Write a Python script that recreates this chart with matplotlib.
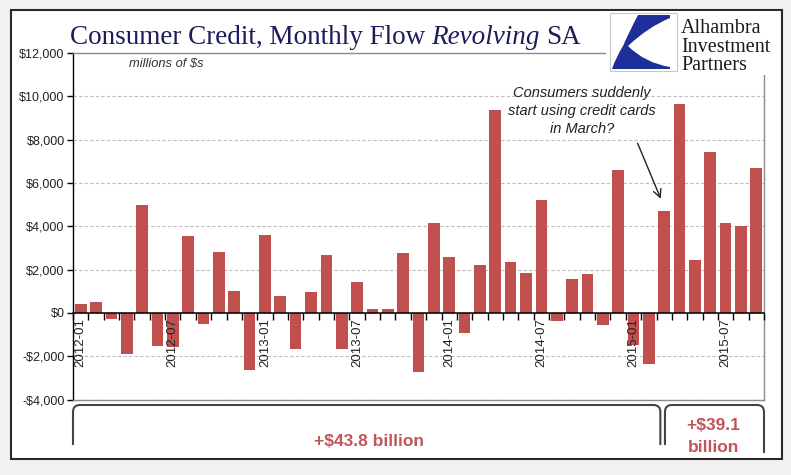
import matplotlib
matplotlib.use("Agg")
import matplotlib.pyplot as plt
from matplotlib.path import Path
from matplotlib.patches import PathPatch, Rectangle
import matplotlib.transforms as mtransforms

# ---------------- data ----------------
months = [f"{y}-{m:02d}" for y in (2012, 2013, 2014, 2015) for m in range(1, 13)][:45]
values = [430, 510, -280, -1890, 5000, -1510, -1570, 3570, -520, 2830, 1000, -2615,
          3580, 790, -1675, 980, 2650, -1675, 1430, 170, 170, 2775, -2710, 4140,
          2590, -915, 2230, 9350, 2360, 1860, 5210, -360, 1550, 1800, -540, 6620,
          -1500, -2340, 4700, 9660, 2420, 7440, 4140, 4030, 6680]
tick_labels = ["2012-01", "2012-07", "2013-01", "2013-07",
               "2014-01", "2014-07", "2015-01", "2015-07"]
yticks = [-4000, -2000, 0, 2000, 4000, 6000, 8000, 10000, 12000]
split_index = 38          # 2015-03 starts second bracket
brace_labels = ["+$43.8 billion", "+$39.1\nbillion"]
annotation = "Consumers suddenly\nstart using credit cards\nin March?"

W, H = 791, 475
BAR = "#c0504d"

fig = plt.figure(figsize=(W / 100, H / 100), dpi=100, facecolor="#f2f2f2")


def P(x, y):
    return (x / W, 1 - y / H)


# outer frame
fig.add_artist(Rectangle(P(11, 459), 771 / W, 449 / H, transform=fig.transFigure,
                         facecolor="white", edgecolor="#2a2a2a", lw=1.5, zorder=-5))

ax = fig.add_axes([73 / W, 1 - 399.5 / H, 691 / W, 346.5 / H])
ax.set_facecolor("white")
x = list(range(len(values)))
ax.bar(x, values, width=0.76, color=BAR, zorder=3)
ax.set_xlim(-0.5, len(values) - 0.5)
ax.set_ylim(yticks[0], yticks[-1])
ax.set_yticks(yticks)
ax.set_yticklabels([("-$" if v < 0 else "$") + f"{abs(v):,}" for v in yticks],
                   fontfamily="Liberation Sans", fontsize=9, color="#222222")
ax.tick_params(axis="y", direction="out", length=4, width=1, color="black", pad=2)
ax.yaxis.grid(True, linestyle=(0, (3, 2)), color="#bdbdbd", lw=0.8)
ax.set_axisbelow(True)
ax.set_xticks([])
for s in ("top", "right", "bottom"):
    ax.spines[s].set_color("#8c8c8c")
    ax.spines[s].set_linewidth(1)
ax.spines["left"].set_color("black")
ax.spines["left"].set_linewidth(1)

# zero line axis with category ticks
zero_frac = (0 - yticks[0]) / (yticks[-1] - yticks[0])
sec = ax.secondary_xaxis(zero_frac)
sec.set_zorder(6)
sec.set_xticks([i - 0.5 for i in range(len(values) + 1)])
sec.set_xticklabels([])
label_pos = [months.index(t) for t in tick_labels]
sec.set_xticks(label_pos, labels=tick_labels, minor=True)
sec.tick_params(which="major", direction="out", length=5, width=1, color="black")
sec.tick_params(which="minor", length=0, pad=4, labelrotation=90,
                labelsize=9.5, labelcolor="#222222")
for lab in sec.get_xticklabels(minor=True):
    lab.set_fontfamily("Liberation Sans")
sec.spines["bottom"].set_color("black")
sec.spines["bottom"].set_linewidth(1.1)

# annotation
ax.text(32.65, 9330, annotation, ha="center", va="center", fontsize=10.5,
        fontstyle="italic", fontfamily="Liberation Sans", color="#222222",
        linespacing=1.35, zorder=5)
ax.annotate("", xy=(37.85, 5150), xytext=(36.2, 7950),
            arrowprops=dict(arrowstyle="->", color="#222222", lw=1,
                            mutation_scale=14), zorder=5)

# title
renderer = fig.canvas.get_renderer()
tkw = dict(fontfamily="Liberation Serif", fontsize=19.5, color="#1c1c5a", va="baseline")
t1 = fig.text(*P(70, 44), "Consumer Credit, Monthly Flow", **tkw)
bb = t1.get_window_extent(renderer)
t2 = fig.text((bb.x1 + 6) / W, 1 - 44 / H, "Revolving", fontstyle="italic", **tkw)
bb = t2.get_window_extent(renderer)
fig.text((bb.x1 + 6) / W, 1 - 44 / H, "SA", **tkw)

fig.text(*P(129, 63.5), "millions of $s", fontsize=9.3, fontstyle="italic",
         fontfamily="Liberation Sans", color="#333333", va="center")

# logo
fig.add_artist(Rectangle(P(606, 75), 174 / W, 63.5 / H, transform=fig.transFigure,
                         facecolor="white", edgecolor="none", zorder=3))
fig.add_artist(Rectangle(P(610, 71), 67 / W, 58 / H, transform=fig.transFigure,
                         facecolor="white", edgecolor="#c8c8c8", lw=0.8, zorder=3))
sw = [(638, 15), (670, 15), (670, 18), (648, 27), (628, 46), (645, 63), (670, 67),
      (670, 69), (612, 69), (616, 57), (623, 46), (630, 30), (638, 15)]
codes = [Path.MOVETO, Path.LINETO, Path.LINETO, Path.CURVE3, Path.CURVE3, Path.CURVE3,
         Path.CURVE3, Path.LINETO, Path.LINETO, Path.CURVE3, Path.CURVE3, Path.CURVE3,
         Path.CURVE3]
fig.add_artist(PathPatch(Path([P(*v) for v in sw], codes), transform=fig.transFigure,
                         facecolor="#1f2f9a", edgecolor="none", zorder=4))
for txt, yb in (("Alhambra", 33), ("Investment", 52), ("Partners", 69.5)):
    fig.text(*P(681, yb), txt, fontfamily="Liberation Serif", fontsize=14.5,
             color="#1a1a1a", va="baseline", zorder=5)

# brackets below the plot
bt = mtransforms.blended_transform_factory(ax.transData, fig.transFigure)


def bracket(xa, xb, yl, yr, ytop=405, r=0.45, ry=7):
    verts = [(xa, yl), (xa, ytop + ry), (xa, ytop), (xa + r, ytop), (xb - r, ytop),
             (xb, ytop), (xb, ytop + ry), (xb, yr)]
    verts = [(vx, 1 - vy / H) for vx, vy in verts]
    cds = [Path.MOVETO, Path.LINETO, Path.CURVE3, Path.CURVE3, Path.LINETO,
           Path.CURVE3, Path.CURVE3, Path.LINETO]
    fig.add_artist(PathPatch(Path(verts, cds), transform=bt, facecolor="none",
                             edgecolor="#444444", lw=1.5))


bracket(-0.5, split_index - 0.25, 445, 445)
bracket(split_index + 0.05, len(values) - 0.5, 445, 453)
fig.text((split_index - 0.5) / 2, 1 - 441 / H, brace_labels[0], transform=bt,
         ha="center", va="center", fontsize=12.5, fontweight="bold",
         fontfamily="Liberation Sans", color="#c0555b")
fig.text((split_index + len(values) - 1) / 2 + 0.2, 1 - 436.5 / H, brace_labels[1],
         transform=bt, ha="center", va="center", fontsize=12.5, fontweight="bold",
         fontfamily="Liberation Sans", color="#c0555b", linespacing=1.5)

fig.savefig("out.png", dpi=100, facecolor=fig.get_facecolor())
